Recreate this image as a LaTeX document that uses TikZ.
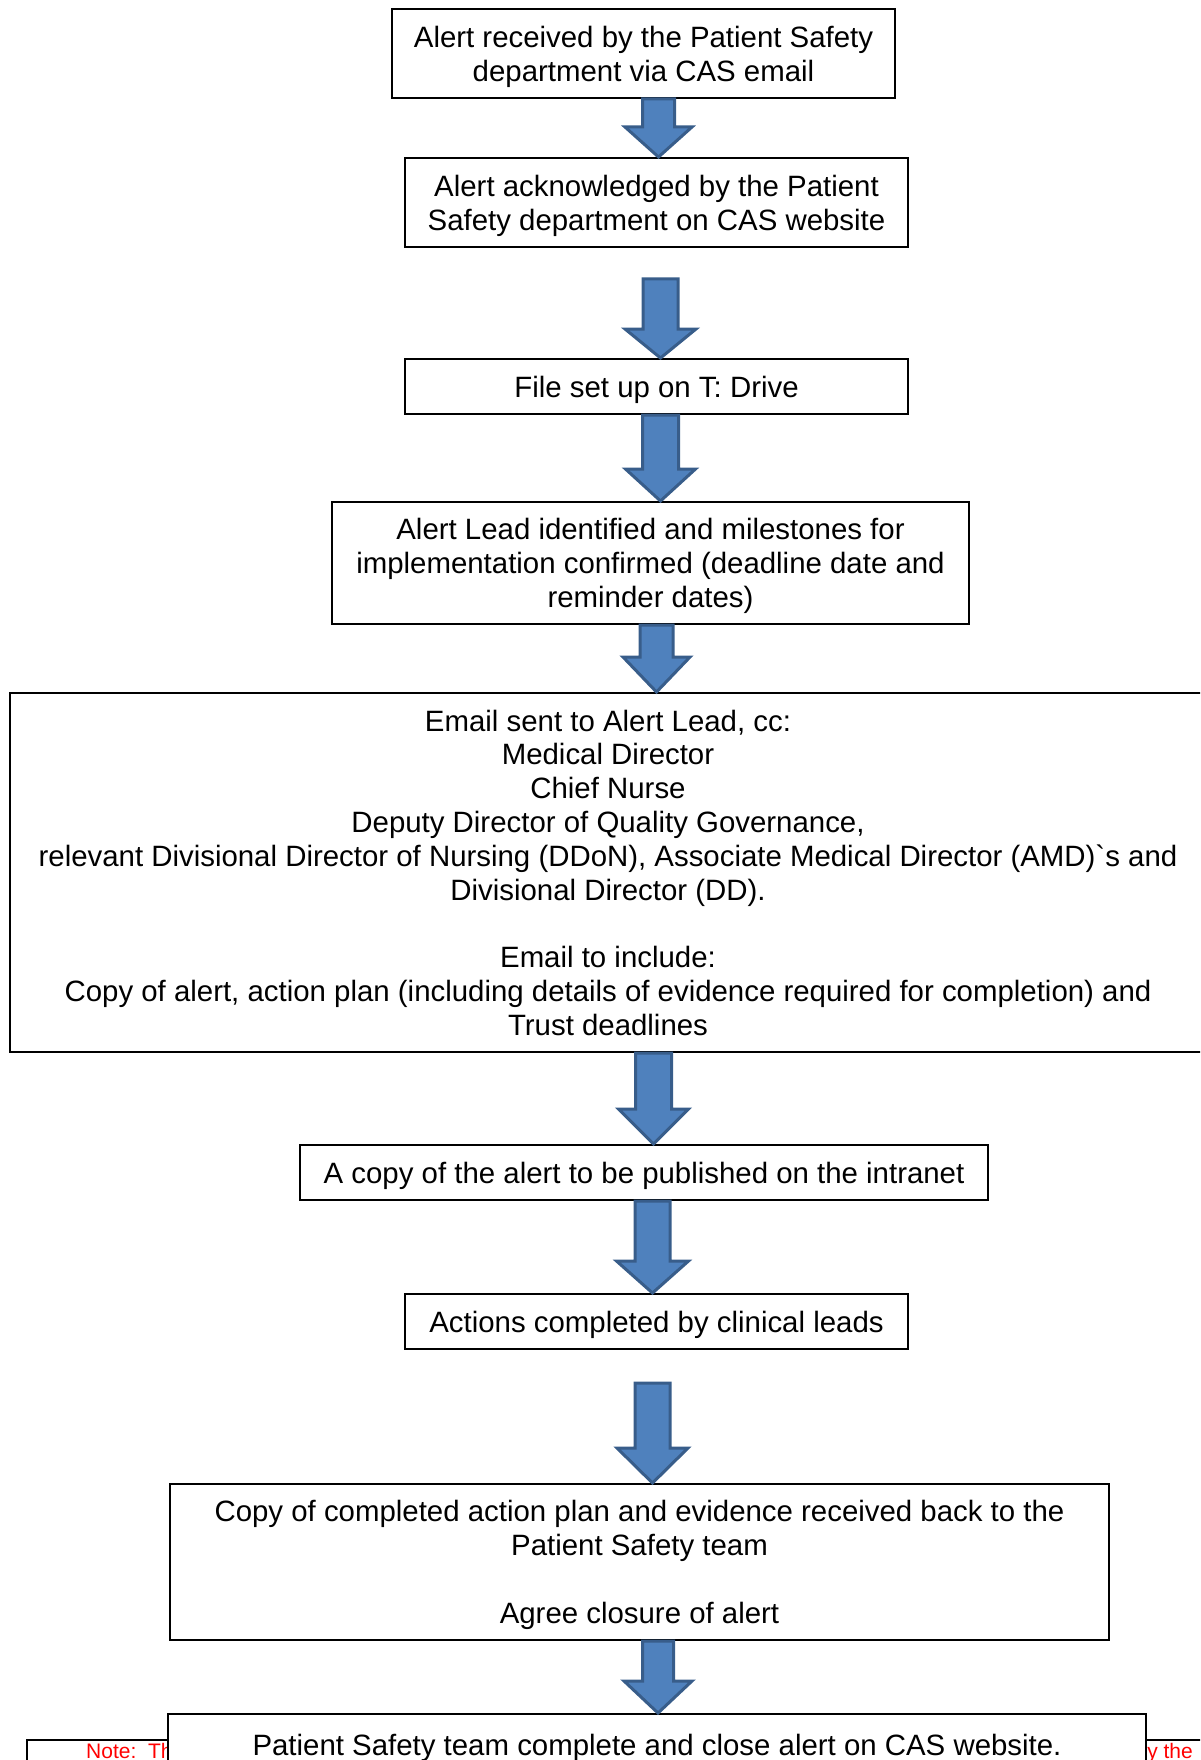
\documentclass[tikz,border=0pt]{standalone}
\usepackage{fontspec}
\setmainfont{Liberation Sans}
\usetikzlibrary{calc}
\definecolor{arrfill}{HTML}{4F81BD}
\definecolor{arrline}{HTML}{385D8A}
\definecolor{notered}{HTML}{FF0000}
\newcommand{\blockarr}[5]{%
  \draw[barrow] let \p1=(#1), \p2=(#2) in
   (\x1-#3pt,\y1) -- (\x1+#3pt,\y1) -- (\x1+#3pt,\y2+#5pt) -- (\x1+#4pt,\y2+#5pt)
   -- (\x1,\y2) -- (\x1-#4pt,\y2+#5pt) -- (\x1-#3pt,\y2+#5pt) -- cycle;}
\begin{document}
\begin{tikzpicture}[x=1pt,y=-1pt,
  box/.style={draw=black,line width=2pt,fill=white,align=center,inner sep=0pt,
    font=\fontsize{29.4}{33.8}\selectfont,
    execute at begin node={\rule{0pt}{27pt}},
    text depth=-1pt},
  oneline/.style={box,text depth=5pt},
  notetxt/.style={text=notered,inner sep=0pt,font=\fontsize{21}{24}\selectfont},
  barrow/.style={fill=arrfill,draw=arrline,line width=3pt,line join=miter}]
\useasboundingbox (0,0) rectangle (1200,1760);
\clip (0,0) rectangle (1200,1760);

\node[box,minimum width=503,minimum height=89] (b1) at (643.5,53.5)
  {Alert received by the Patient Safety\\department via CAS email};
\node[box,minimum width=503,minimum height=89] (b2) at (656.5,202.5)
  {Alert acknowledged by the Patient\\Safety department on CAS website};
\node[oneline,minimum width=503,minimum height=55] (b3) at (656.5,386.5)
  {File set up on T: Drive};
\node[box,minimum width=637,minimum height=122] (b4) at (650.5,563)
  {Alert Lead identified and milestones for\\implementation confirmed (deadline date and\\reminder dates)};
\node[box,minimum width=1196,minimum height=359] (b5) at (608,872.5)
  {Email sent to Alert Lead, cc:\\Medical Director\\Chief Nurse\\Deputy Director of Quality Governance,\\relevant Divisional Director of Nursing (DDoN), Associate Medical Director (AMD){\addfontfeatures{Ligatures=TeXOff}`}s and\\Divisional Director (DD).\\[33.8pt]Email to include:\\Copy of alert, action plan (including details of evidence required for completion) and\\Trust deadlines};
\node[oneline,minimum width=688,minimum height=55] (b6) at (644,1172.5)
  {A copy of the alert to be published on the intranet};
\node[oneline,minimum width=503,minimum height=55] (b7) at (656.5,1321.5)
  {Actions completed by clinical leads};
\node[box,minimum width=939,minimum height=156] (b8) at (639.5,1562)
  {Copy of completed action plan and evidence received back to the\\Patient Safety team\\[33.8pt]Agree closure of alert};

\node[draw=black,line width=2pt,fill=white,minimum width=1183,minimum height=60] (note) at (618.5,1770) {};
\node[notetxt,anchor=base west] (n1) at (86,1758) {Note:~~Th};
\node[notetxt,anchor=base east] (n2) at (1193,1758) {y the};

\node[oneline,minimum width=978,minimum height=60] (b9) at (657,1744)
  {Patient Safety team complete and close alert on CAS website.};

\blockarr{[xshift=15pt]b1.south}{b2.north}{16}{33.5}{30}
\blockarr{$(b2.south)+(4,31)$}{b3.north}{17.5}{35.5}{29}
\blockarr{[xshift=4pt]b3.south}{b4.north}{18}{35}{32}
\blockarr{[xshift=6pt]b4.south}{b5.north}{16.5}{33.5}{35}
\blockarr{[xshift=45.5pt]b5.south}{b6.north}{18}{35}{35}
\blockarr{[xshift=8.5pt]b6.south}{b7.north}{17.5}{36}{32}
\blockarr{$(b7.south)+(-4,33)$}{b8.north}{17.5}{35.5}{35}
\blockarr{[xshift=18.5pt]b8.south}{b9.north}{15.5}{34}{32}
\end{tikzpicture}
\end{document}
